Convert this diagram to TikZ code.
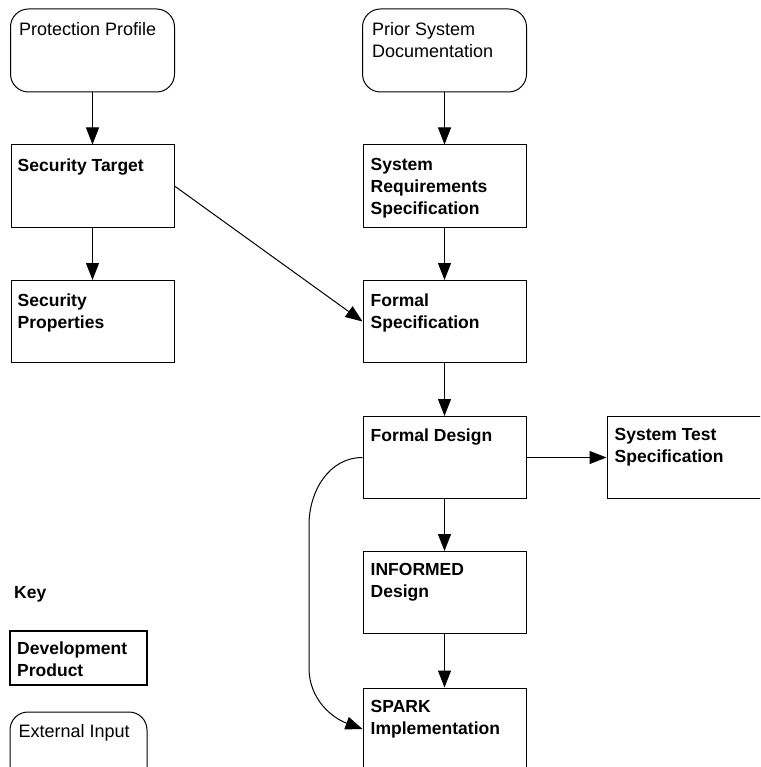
\documentclass[tikz,border=0pt]{standalone}
\usepackage{fontspec}
\setmainfont{Liberation Sans}
\usetikzlibrary{arrows.meta,calc}
\begin{document}
\begin{tikzpicture}[x=1pt,y=-1pt,
  prod/.style={draw,line width=1pt,minimum width=163pt,minimum height=82pt,inner sep=0pt},
  ext/.style={draw,line width=1pt,rounded corners=18pt,minimum width=164pt,minimum height=83pt,inner sep=0pt},
  btxt/.style={anchor=north west,inner sep=0pt,align=left,font=\fontsize{17.5}{22}\selectfont\bfseries},
  rtxt/.style={anchor=north west,inner sep=0pt,align=left,font=\fontsize{18}{22}\selectfont},
  arr/.style={line width=1pt,-{Triangle[length=17pt,width=13pt]}}]
\useasboundingbox (0,0) rectangle (760,767);
\clip (0,0) rectangle (760,767);
% external inputs
\node[ext] (pp) at (92.5,50.5) {};
\node[ext] (psd) at (444.5,50.5) {};
% products
\node[prod] (st) at (92.5,186) {};
\node[prod] (sp) at (92.5,321.5) {};
\node[prod] (srs) at (444.5,186) {};
\node[prod] (fs) at (444.5,321.5) {};
\node[prod] (fd) at (444.5,457.5) {};
\node[prod] (sts) at (688.5,457.5) {};
\node[prod] (id) at (444.5,592.5) {};
\node[prod] (spark) at (444.5,729) {};
% key
\node[btxt] (key) at (14,586) {Key};
\node[draw,line width=2pt,minimum width=137pt,minimum height=54pt,inner sep=0pt] (dp) at (78.5,658) {};
\node[ext,minimum width=137pt] (ei) at (78.5,753.5) {};
% labels
\node[rtxt] (tpp) at ($(pp.north west)+(9,14)$) {Protection Profile};
\node[rtxt] (tpsd) at ($(psd.north west)+(10,14)$) {Prior System\\Documentation};
\node[btxt] (tst) at ($(st.north west)+(7,14)$) {Security Target};
\node[btxt] (tsp) at ($(sp.north west)+(7,14)$) {Security\\Properties};
\node[btxt] (tsrs) at ($(srs.north west)+(8,14)$) {System\\Requirements\\Specification};
\node[btxt] (tfs) at ($(fs.north west)+(8,14)$) {Formal\\Specification};
\node[btxt] (tfd) at ($(fd.north west)+(8,12.5)$) {Formal Design};
\node[btxt] (tsts) at ($(sts.north west)+(8,12.5)$) {System Test\\Specification};
\node[btxt] (tid) at ($(id.north west)+(8,12.5)$) {INFORMED\\Design};
\node[btxt] (tspark) at ($(spark.north west)+(8,12.5)$) {SPARK\\Implementation};
\node[btxt] (tdp) at ($(dp.north west)+(8,12)$) {Development\\Product};
\node[rtxt] (tei) at ($(ei.north west)+(9,13)$) {External Input};
% connectors
\draw[arr] (pp) -- (st);
\draw[arr] (st) -- (sp);
\draw[arr] (psd) -- (srs);
\draw[arr] (srs) -- (fs);
\draw[arr] (st.east) -- (fs.west);
\draw[arr] (fs) -- (fd);
\draw[arr] (fd) -- (sts);
\draw[arr] (fd) -- (id);
\draw[arr] (id) -- (spark);
\coordinate (c1) at (309,525);
\coordinate (c2) at (309,668);
\draw[arr] (fd.west) to[out=180,in=90] (c1) -- (c2) to[out=270,in=160] (spark.west);
\end{tikzpicture}
\end{document}
